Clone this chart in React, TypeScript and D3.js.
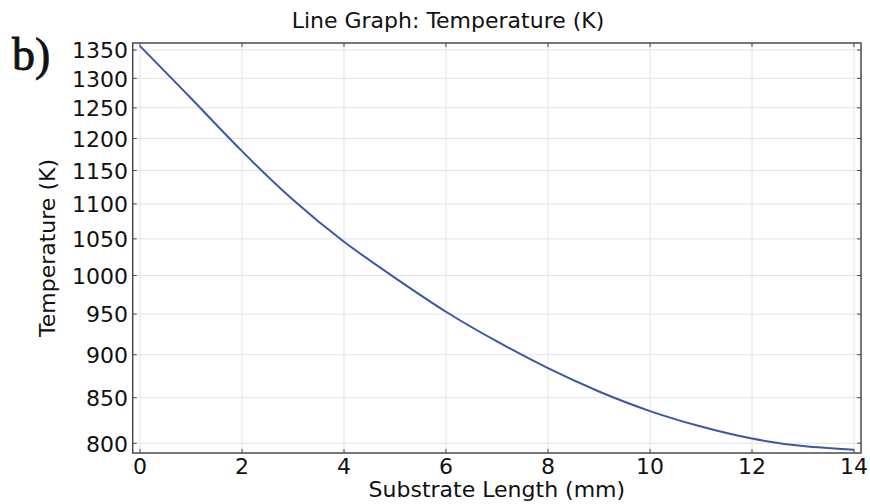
import React from "react";
import * as d3 from "d3";

const lengthMm = [0, 1, 2, 3, 4, 5, 6, 7, 8, 9, 10, 11, 12, 13, 14];
const temperatureK = [1357, 1266, 1180, 1106, 1046, 997, 953, 916, 884, 857, 835, 818, 805, 797, 793];
const xTicks = [0, 2, 4, 6, 8, 10, 12, 14];
const yTicks = [800, 850, 900, 950, 1000, 1050, 1100, 1150, 1200, 1250, 1300, 1350];

const W = 870;
const H = 504;
const L = 132.7, R = 861, T = 43, B = 453;
const FONT = "DejaVu Sans, Verdana, sans-serif";

export default function App() {
  const x = d3.scaleLinear().domain([-0.143, 14.137]).range([L, R]);
  const y = d3.scaleLog().domain([789.7, 1362.6]).range([B, T]);
  const line = d3
    .line<number>()
    .x((_, i) => x(lengthMm[i]))
    .y((d) => y(d))
    .curve(d3.curveNatural);
  const frame = "#4a4a4a";
  return (
    <svg
      width={W}
      height={H}
      style={{ position: "absolute", left: 0, top: 0, background: "#fff" }}
      fontFamily={FONT}
    >
      <rect x={0} y={0} width={W} height={H} fill="#fff" />
      {/* grid */}
      {xTicks.map((t) => (
        <line key={"gx" + t} x1={x(t)} x2={x(t)} y1={T} y2={B} stroke="#e4e4e4" strokeWidth={1} />
      ))}
      {yTicks.map((t) => (
        <line key={"gy" + t} x1={L} x2={R} y1={y(t)} y2={y(t)} stroke="#e4e4e4" strokeWidth={1} />
      ))}
      {/* curve */}
      <path d={line(temperatureK) || ""} fill="none" stroke="#3b56aa" strokeWidth={2} />
      {/* ticks */}
      {xTicks.map((t) => (
        <g key={"tx" + t}>
          <line x1={x(t)} x2={x(t)} y1={B} y2={B - 4} stroke={frame} strokeWidth={1} />
          <line x1={x(t)} x2={x(t)} y1={T} y2={T + 4} stroke={frame} strokeWidth={1} />
          <text x={x(t)} y={474} fontSize={22} textAnchor="middle" fill="#111">
            {t}
          </text>
        </g>
      ))}
      {yTicks.map((t) => (
        <g key={"ty" + t}>
          <line x1={L} x2={L + 4} y1={y(t)} y2={y(t)} stroke={frame} strokeWidth={1} />
          <line x1={R} x2={R - 4} y1={y(t)} y2={y(t)} stroke={frame} strokeWidth={1} />
          <text x={128} y={y(t) + 8.4} fontSize={22} textAnchor="end" fill="#111">
            {t}
          </text>
        </g>
      ))}
      {/* frame */}
      <rect x={L} y={T} width={R - L} height={B - T} fill="none" stroke={frame} strokeWidth={1.5} />
      {/* labels */}
      <text x={448} y={28} fontSize={22} textAnchor="middle" fill="#111">
        Line Graph: Temperature (K)
      </text>
      <text x={(L + R) / 2} y={497} fontSize={22} textAnchor="middle" fill="#111">
        Substrate Length (mm)
      </text>
      <text
        transform={`translate(55,${(T + B) / 2}) rotate(-90)`}
        fontSize={22}
        textAnchor="middle"
        fill="#111"
      >
        Temperature (K)
      </text>
      <text x={12} y={70} fontSize={46} fontFamily="Liberation Serif, serif" fill="#111" stroke="#111" strokeWidth={0.8}>
        b)
      </text>
    </svg>
  );
}
